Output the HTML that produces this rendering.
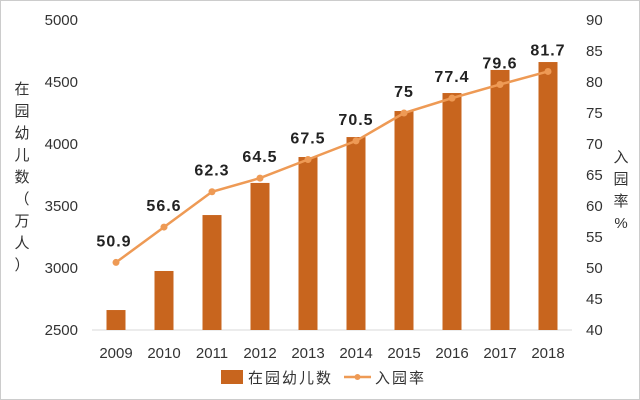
<!DOCTYPE html>
<html><head><meta charset="utf-8"><style>
html,body{margin:0;padding:0;background:#fff}
svg{display:block;font-family:"Liberation Sans","Noto Sans CJK SC",sans-serif}
</style></head><body>
<svg id="chart" width="640" height="400">
<rect x="0.5" y="0.5" width="639" height="399" fill="#fff" stroke="#ccc"/>
<g id="g"></g>
</svg>
<script>
const years=["2009","2010","2011","2012","2013","2014","2015","2016","2017","2018"];
const children=[2661,2976,3427,3686,3895,4056,4266,4411,4597,4661];
const rate=[50.9,56.6,62.3,64.5,67.5,70.5,75,77.4,79.6,81.7];
const rateLabels=["50.9","56.6","62.3","64.5","67.5","70.5","75","77.4","79.6","81.7"];
const leftTicks=[2500,3000,3500,4000,4500,5000];
const rightTicks=[40,45,50,55,60,65,70,75,80,85,90];
const NS="http://www.w3.org/2000/svg";
const g=document.getElementById('g');
const plotTop=20,plotBot=330,x0=92,x1=572;
const yL=v=>plotBot-(v-2500)/2500*(plotBot-plotTop);
const yR=v=>plotBot-(v-40)/50*(plotBot-plotTop);
const step=(x1-x0)/years.length;
const xC=i=>x0+step*(i+0.5);
function el(t,a,txt){const e=document.createElementNS(NS,t);for(const k in a)e.setAttribute(k,a[k]);if(txt!==undefined)e.textContent=txt;g.appendChild(e);return e;}
leftTicks.forEach(v=>{const e=el('text',{x:78,y:yL(v)+5,'text-anchor':'end','font-size':15,fill:'#333'},v);

});
rightTicks.forEach(v=>{const e=el('text',{x:586,y:yR(v)+5,'font-size':15,fill:'#333'},v);

});
const ax=el('line',{x1:x0,y1:plotBot,x2:x1,y2:plotBot,stroke:'#d9d9d9','stroke-width':1});


years.forEach((y,i)=>{
const b=el('rect',{x:xC(i)-9.5,y:yL(children[i]),width:19,height:plotBot-yL(children[i]),fill:'#C8651E'});


const t=el('text',{x:xC(i),y:358,'text-anchor':'middle','font-size':15,fill:'#333'},y);


});
const pts=rate.map((r,i)=>xC(i)+','+yR(r)).join(' ');
const pl=el('polyline',{points:pts,fill:'none',stroke:'#EE9A55','stroke-width':2.5});


rate.forEach((r,i)=>{
const c=el('circle',{cx:xC(i),cy:yR(r),r:3.5,fill:'#EE9A55'});


const t=el('text',{x:xC(i)-(i==0?2:0),y:yR(r)-16,'text-anchor':'middle','font-size':16,'font-weight':'bold',fill:'#222','letter-spacing':'1'},rateLabels[i]);


});
const lt="在园幼儿数（万人）".split('');
lt.forEach((ch,i)=>{const t=el('text',{x:22,y:94+i*22,'text-anchor':'middle','font-size':15,fill:'#333'},ch);

});
"入园率%".split('').forEach((ch,i)=>{const t=el('text',{x:621,y:162+i*22,'text-anchor':'middle','font-size':15,fill:'#333'},ch);

});
const lb=el('rect',{x:221,y:370,width:22,height:14,fill:'#C8651E'});


const lbt=el('text',{x:248,y:383,'font-size':15,fill:'#333','letter-spacing':'2'},'在园幼儿数');


const ll=el('line',{x1:344,y1:377,x2:371,y2:377,stroke:'#EE9A55','stroke-width':2.5});


const lc=el('circle',{cx:357.5,cy:377,r:3,fill:'#EE9A55'});


const llt=el('text',{x:375,y:383,'font-size':15,fill:'#333','letter-spacing':'2'},'入园率');


</script>
</body></html>
